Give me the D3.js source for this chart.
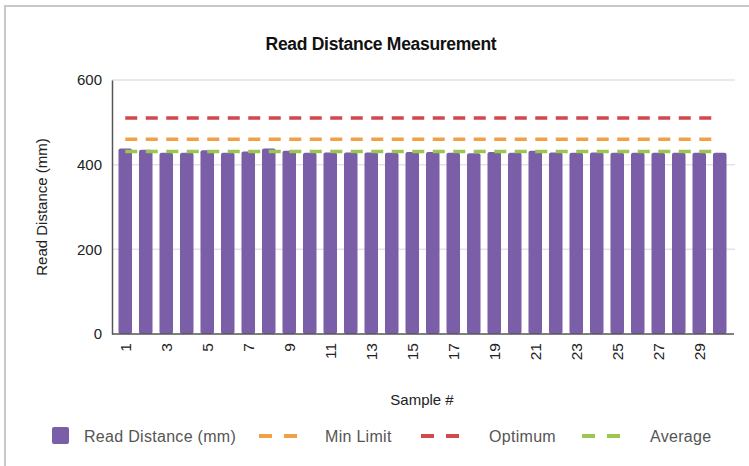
<!DOCTYPE html>
<html>
<head>
<meta charset="utf-8">
<script src="https://cdn.jsdelivr.net/npm/d3@7"></script>
<style>
  html, body { margin: 0; padding: 0; background: #fff; }
  svg { display: block; }
</style>
</head>
<body>
<svg id="chart" width="749" height="466"></svg>
<script>
// ---- data ----
const samples = d3.range(1, 31);
const readDistance = [438, 435, 428, 428, 434, 428, 431, 438, 433, 428,
                      429, 429, 429, 428, 430, 430, 428, 427, 430, 428,
                      433, 429, 428, 429, 428, 428, 428, 428, 428, 428];
const minLimit = samples.map(() => 460);
const optimum = samples.map(() => 510);
const averageValue = samples.map(() => 431);
const yTicks = [0, 200, 400, 600];
const xTickLabels = samples.filter(d => d % 2 === 1);

const seriesLines = [
  { name: "Min Limit", values: minLimit, color: "#f0a145" },
  { name: "Optimum", values: optimum, color: "#d1484d" },
  { name: "Average", values: averageValue, color: "#9cc650" }
];
const barColor = "#7b5ea8";

const svg = d3.select("#chart");
const font = "'Liberation Sans', Arial, sans-serif";

// frame
svg.append("path")
  .attr("d", "M5,466 L5,6 L749,6")
  .attr("fill", "none").attr("stroke", "#c8c8c8").attr("stroke-width", 2);

const x = d3.scaleBand().domain(samples).range([115, 730]).paddingInner(0.34).paddingOuter(0.17);
const y = d3.scaleLinear().domain([0, 600]).range([334, 80]);

// gridlines
svg.append("g").selectAll("line").data(yTicks.filter(d => d > 0)).join("line")
  .attr("x1", 112).attr("x2", 735)
  .attr("y1", d => y(d)).attr("y2", d => y(d))
  .attr("stroke", d => d === 600 ? "#e2e2e2" : "#e4e0f0").attr("stroke-width", 1.5);

// bars
svg.append("g").selectAll("rect").data(samples).join("rect")
  .attr("x", d => x(d)).attr("width", x.bandwidth())
  .attr("y", (d, i) => y(readDistance[i]))
  .attr("height", (d, i) => y(0) - y(readDistance[i]))
  .attr("rx", 2)
  .attr("fill", barColor);

// lines
const line = d3.line().x((d, i) => x(samples[i]) + x.bandwidth() / 2).y(d => y(d));
seriesLines.forEach(s => {
  svg.append("path").datum(s.values)
    .attr("d", line)
    .attr("fill", "none").attr("stroke", s.color)
    .attr("stroke-width", 3.5).attr("stroke-dasharray", "12,8.5");
});

// y axis
const yAxis = svg.append("g").attr("transform", "translate(112,0)")
  .call(d3.axisLeft(y).tickValues(yTicks).tickSize(0).tickPadding(10));
yAxis.select(".domain").attr("stroke", "#555").attr("stroke-width", 1.5);
yAxis.selectAll("text").attr("font-family", font).attr("font-size", 15).attr("fill", "#222");

// x axis
const xAxis = svg.append("g").attr("transform", "translate(0,334)")
  .call(d3.axisBottom(x).tickValues(xTickLabels).tickSize(0));
xAxis.select(".domain").attr("d", "M112,0H734").attr("stroke", "#555").attr("stroke-width", 1.5);
xAxis.selectAll("text")
  .attr("font-family", font).attr("font-size", 15.5).attr("fill", "#222")
  .attr("transform", "rotate(-90)")
  .attr("text-anchor", "end")
  .attr("x", -9).attr("y", 0).attr("dy", "0.35em");

// titles
svg.append("text").attr("x", 381).attr("y", 50).attr("text-anchor", "middle")
  .attr("font-family", "'Liberation Sans Narrow', 'Arial Narrow', 'Liberation Sans', sans-serif")
  .attr("font-weight", "bold").attr("font-size", 17.5).attr("fill", "#111")
  .attr("letter-spacing", -0.3)
  .text("Read Distance Measurement");

svg.append("text").attr("x", 422).attr("y", 405).attr("text-anchor", "middle")
  .attr("font-family", font).attr("font-size", 15).attr("fill", "#222")
  .text("Sample #");

svg.append("text").attr("transform", "translate(47,207) rotate(-90)").attr("text-anchor", "middle")
  .attr("font-family", font).attr("font-size", 15).attr("fill", "#222")
  .text("Read Distance (mm)");

// legend
const lg = svg.append("g").attr("font-family", font).attr("font-size", 16).attr("fill", "#555")
  .attr("letter-spacing", 0.3);
lg.append("rect").attr("x", 52).attr("y", 427).attr("width", 17).attr("height", 17).attr("rx", 2).attr("fill", barColor);
lg.append("text").attr("x", 84).attr("y", 441.5).text("Read Distance (mm)");
const legendLines = [
  { x: 259, tx: 325 },
  { x: 421, tx: 489 },
  { x: 582, tx: 650 }
];
seriesLines.forEach((s, i) => {
  const p = legendLines[i];
  lg.append("line").attr("x1", p.x).attr("x2", p.x + 38).attr("y1", 436).attr("y2", 436)
    .attr("stroke", s.color).attr("stroke-width", 4).attr("stroke-dasharray", "13,12");
  lg.append("text").attr("x", p.tx).attr("y", 441.5).text(s.name);
});
</script>
</body>
</html>
